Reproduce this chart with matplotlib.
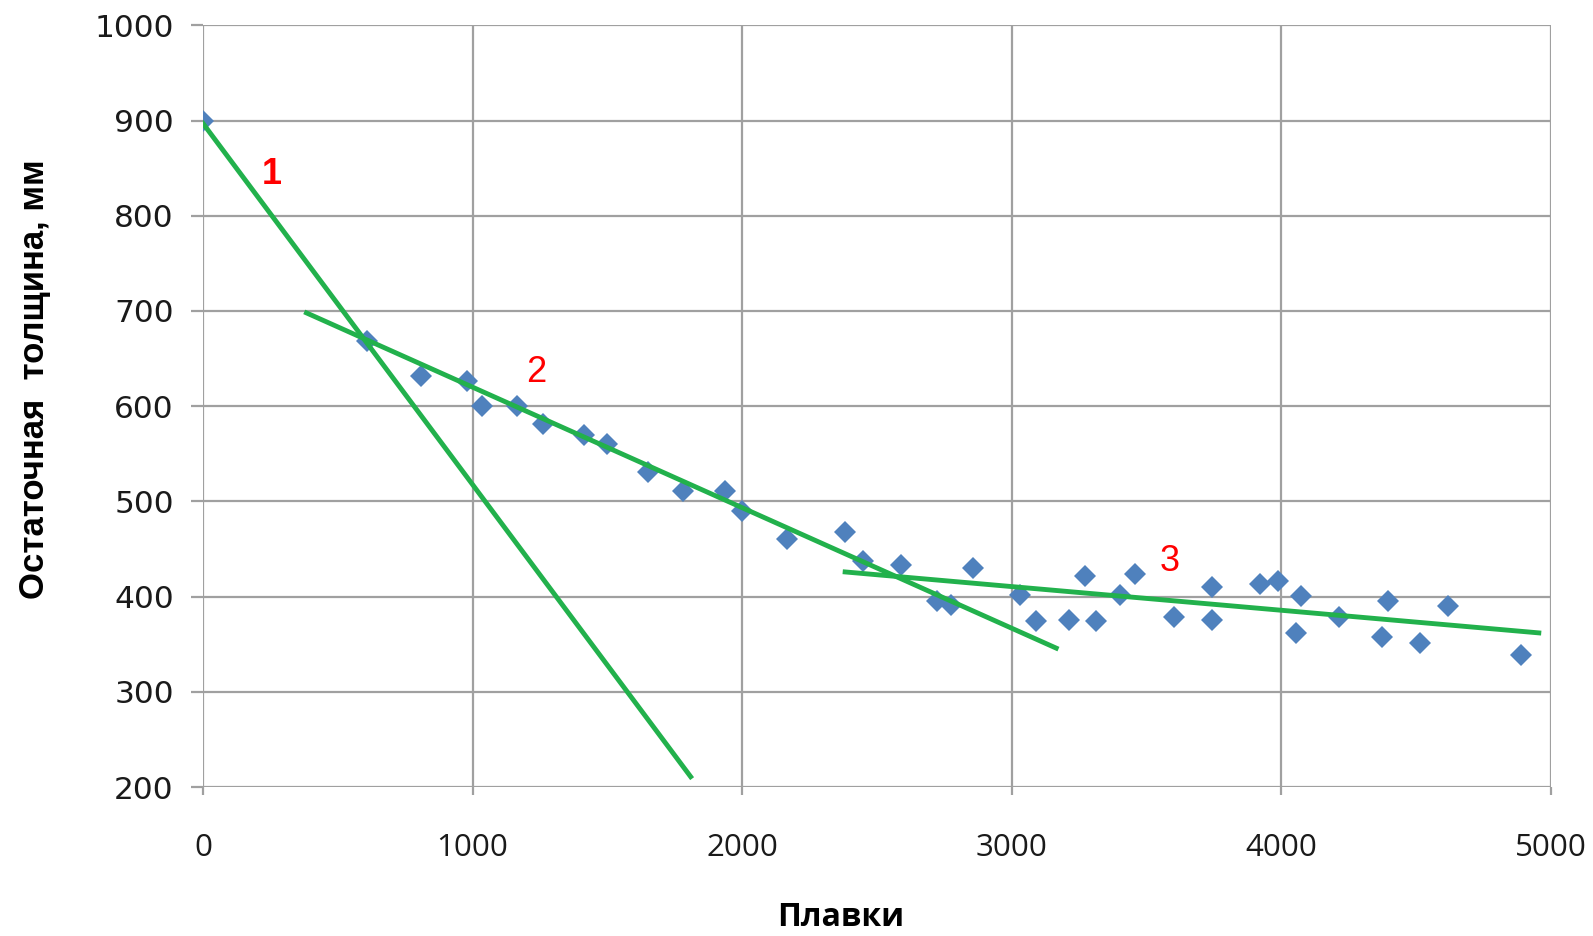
import matplotlib
matplotlib.use("Agg")
import matplotlib.pyplot as plt

# measured points (heats, residual thickness mm)
heats = [0, 610, 810, 980, 1036, 1164, 1262, 1413, 1500, 1650, 1782, 1937, 2001,
         2167, 2382, 2449, 2589, 2724, 2773, 2857, 3030, 3090, 3214, 3271, 3312,
         3403, 3459, 3602, 3741, 3741, 3919, 3986, 4073, 4054, 4213, 4375, 4397,
         4514, 4620, 4888]
thickness = [900, 669, 632, 627, 600, 600, 581, 570, 560, 531, 511, 511, 490,
             461, 468, 437, 433, 395, 391, 430, 402, 374, 376, 422, 374,
             402, 424, 379, 410, 376, 413, 416, 401, 362, 379, 358, 395,
             351, 390, 339]

# trend lines 1, 2, 3 (start/end)
line1_x = [0, 1809]
line1_y = [897, 211]
line2_x = [384, 3165]
line2_y = [698, 346]
line3_x = [2382, 4955]
line3_y = [426, 362]

label_text = ["1", "2", "3"]
label_x = [256, 1236, 3587]
label_y = [843, 635, 437]

fig = plt.figure(figsize=(15.93, 9.36), dpi=100)
ax = fig.add_axes([0.1274, 0.159, 0.8462, 0.814])

green = "#22b14c"
ax.plot(line1_x, line1_y, color=green, lw=3.5, zorder=3)
ax.plot(line2_x, line2_y, color=green, lw=3.5, zorder=3)
ax.plot(line3_x, line3_y, color=green, lw=3.5, zorder=3)
ax.plot(heats, thickness, ls="none", marker="D", ms=11, color="#4f81bd",
        markeredgewidth=0, zorder=2)

ax.text(label_x[0], label_y[0], label_text[0], color="red", fontsize=26,
        fontweight="bold", family="Liberation Sans", ha="center", va="center")
for t, x, y in zip(label_text[1:], label_x[1:], label_y[1:]):
    ax.text(x, y, t, color="red", fontsize=26, family="Liberation Sans",
            ha="center", va="center")

ax.set_xlim(0, 5000)
ax.set_ylim(200, 1000)
ax.set_xticks(range(0, 5001, 1000))
ax.set_yticks(range(200, 1001, 100))
ax.grid(True, color="#a0a0a0", lw=1.6)
ax.set_axisbelow(True)
for s in ax.spines.values():
    s.set_visible(False)
ax.tick_params(axis="y", length=9, width=1.6, color="#a0a0a0", pad=12,
               labelsize=22.5, labelcolor="#1a1a1a")
ax.tick_params(axis="x", length=6, width=1.6, color="#a0a0a0", pad=27,
               labelsize=22.5, labelcolor="#1a1a1a")
for lab in ax.get_yticklabels():
    lab.set_family("DejaVu Sans")
for lab in ax.get_xticklabels():
    lab.set_family("Open Sans")

ax.set_xlabel("Плавки", fontsize=23, fontweight="bold", family="Open Sans")
ax.xaxis.set_label_coords(0.473, -0.150)
ax.set_ylabel("Остаточная  толщина, мм", fontsize=25, fontweight="bold",
              family="Liberation Sans")
ax.yaxis.set_label_coords(-0.113, 0.535)

fig.savefig("out.png", dpi=100)
